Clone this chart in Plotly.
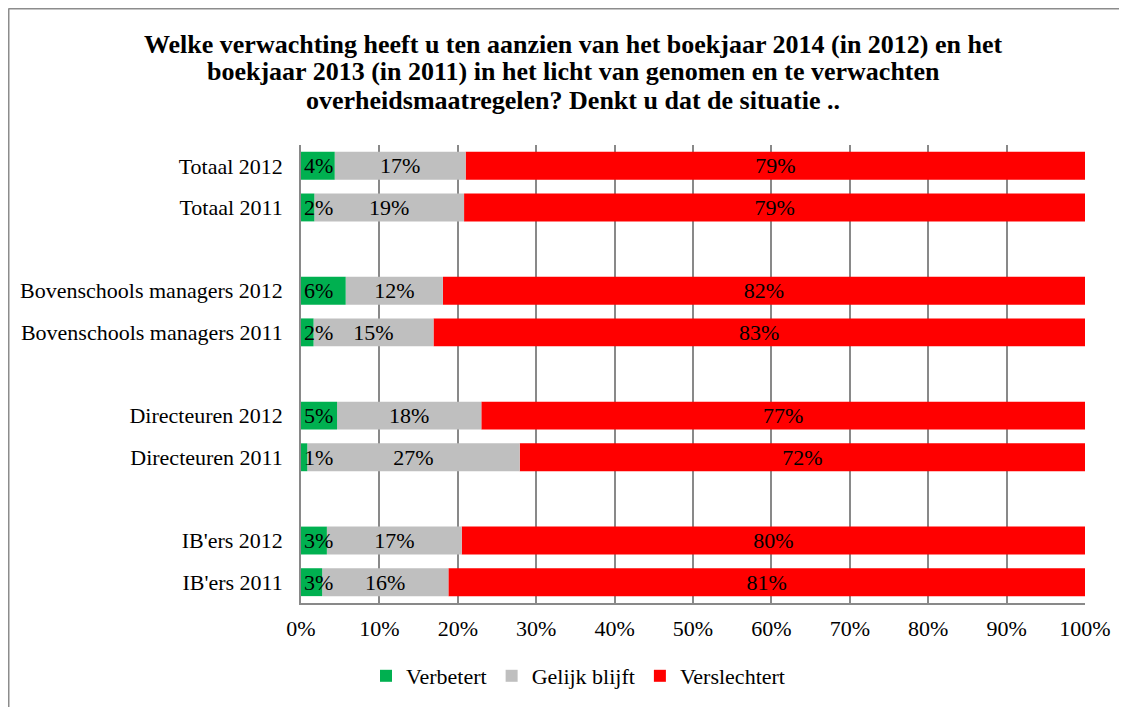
import plotly.graph_objects as go

categories = ["Totaal 2012", "Totaal 2011",
              "Bovenschools managers 2012", "Bovenschools managers 2011",
              "Directeuren 2012", "Directeuren 2011",
              "IB'ers 2012", "IB'ers 2011"]
verbetert = [4.3, 1.7, 5.7, 1.6, 4.6, 0.8, 3.3, 2.7]
gelijk = [16.7, 19.1, 12.4, 15.3, 18.4, 27.1, 17.2, 16.1]
verslechtert = [79.0, 79.2, 81.9, 83.1, 77.0, 72.1, 79.5, 81.2]
series_names = ["Verbetert", "Gelijk blijft", "Verslechtert"]
colors = ["#00B050", "#BFBFBF", "#FF0000"]
tick_vals = [0, 10, 20, 30, 40, 50, 60, 70, 80, 90, 100]
title_lines = ["Welke verwachting heeft u ten aanzien van het boekjaar 2014 (in 2012) en het",
               "boekjaar 2013 (in 2011) in het licht van genomen en te verwachten",
               "overheidsmaatregelen? Denkt u dat de situatie .."]

# slot positions: pairs with an empty slot between groups
ypos = [i + i // 2 for i in range(len(categories))]

FONT = "Liberation Serif"
FS = 22
OFF = 8  # page body margin

W, H = 1127, 707
ml, mt = 301 - OFF, 145 - OFF
mr = W - (1085 - OFF)
mb = H - (603 - OFF)
pw = W - ml - mr
ph = H - mt - mb


def px_x(p):  # screen px -> paper
    return (p - OFF - ml) / pw


def px_y(p):
    return 1 - (p - OFF - mt) / ph


series = [verbetert, gelijk, verslechtert]
bases = []
running = [0.0] * len(categories)
for vals in series:
    bases.append(list(running))
    running = [r + v for r, v in zip(running, vals)]
anchors = ["start", "middle", "middle"]

fig = go.Figure()
# draw in reverse so labels of narrow left segments stay on top
for name, vals, base, col, anc in reversed(list(zip(series_names, series, bases, colors, anchors))):
    fig.add_trace(go.Bar(
        y=ypos, x=vals, base=base, name=name, orientation="h",
        marker=dict(color=col, line=dict(width=0)),
        width=0.67,
        text=[f"{round(v):.0f}%" for v in vals],
        textposition="inside", insidetextanchor=anc, textangle=0,
        textfont=dict(family=FONT, size=FS, color="black"),
        cliponaxis=False,
    ))

fig.update_layout(
    width=W, height=H, barmode="overlay",
    margin=dict(l=ml, r=mr, t=mt, b=mb, autoexpand=False),
    paper_bgcolor="white", plot_bgcolor="white",
    uniformtext=dict(mode="show", minsize=FS),
    xaxis=dict(range=[0, 100], tickvals=tick_vals,
               ticktext=[f"{v}%" for v in tick_vals],
               showgrid=True, gridcolor="#898989", gridwidth=1.6,
               showline=True, linecolor="#898989", linewidth=1.6,
               zeroline=False, ticks="", ticklabelstandoff=5,
               tickfont=dict(family=FONT, size=FS, color="black"),
               layer="below traces", fixedrange=True),
    yaxis=dict(range=[10.5, -0.5], tickvals=ypos, ticktext=categories,
               showgrid=False, zeroline=False,
               showline=True, linecolor="#898989", linewidth=1.6,
               ticks="", ticklabelstandoff=12,
               tickfont=dict(family=FONT, size=FS, color="black")),
    legend=dict(orientation="h", xref="container", yref="container",
                x=(578 - OFF) / W, xanchor="center",
                y=1 - (676 - OFF) / H, yanchor="middle",
                font=dict(family=FONT, size=FS, color="black"),
                itemwidth=30, traceorder="reversed"),
    showlegend=True,
)

for line, yc in zip(title_lines, [45, 72, 100]):
    fig.add_annotation(text=f"<b>{line}</b>", xref="paper", yref="paper",
                       x=px_x(573), y=px_y(yc), xanchor="center", yanchor="middle",
                       showarrow=False,
                       font=dict(family=FONT, size=26, color="black"))

# outer frame (left and top edges visible)
fig.add_shape(type="line", xref="paper", yref="paper",
              x0=px_x(8.5), x1=px_x(8.5), y0=px_y(8.5), y1=px_y(H + 20),
              line=dict(color="#8c8c8c", width=2))
fig.add_shape(type="line", xref="paper", yref="paper",
              x0=px_x(8.5), x1=px_x(W + 20), y0=px_y(8.5), y1=px_y(8.5),
              line=dict(color="#8c8c8c", width=2))

fig.write_html("out.html")
